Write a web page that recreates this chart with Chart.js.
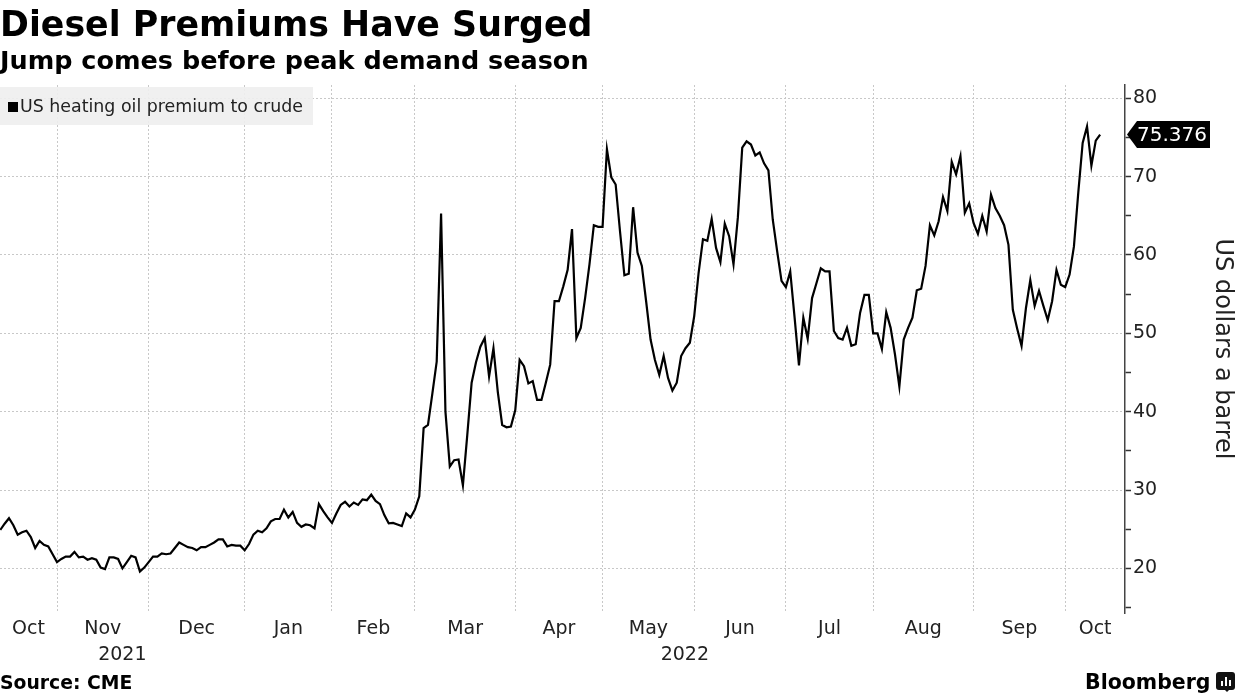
<!DOCTYPE html>
<html>
<head>
<meta charset="utf-8">
<title>Diesel Premiums Have Surged</title>
<script src="https://cdn.jsdelivr.net/npm/chart.js@4.4.1/dist/chart.umd.min.js"></script>
<style>
  html, body { margin: 0; padding: 0; background: #fff; }
  #wrap { position: relative; width: 1240px; height: 697px; overflow: hidden;
          font-family: "DejaVu Sans", sans-serif; color: #000; }
  #chart { position: absolute; left: 0; top: 0; }
  .title { position: absolute; left: 0; top: 7px; font-weight: bold; font-size: 34.8px; line-height: 1; white-space: nowrap; }
  .subtitle { position: absolute; left: 0; top: 48px; font-weight: bold; font-size: 25.5px; line-height: 1; white-space: nowrap; }
  .legend { position: absolute; left: 0; top: 87px; width: 313px; height: 38px;
            background: rgba(238, 238, 238, 0.9); font-size: 17.4px; line-height: 38px; color: #222; white-space: nowrap; }
  .legend i { display: inline-block; width: 10px; height: 10px; background: #000; margin: 0 2px 0 8px; vertical-align: 0px; }
  .source { position: absolute; left: 0; top: 674px; font-weight: bold; font-size: 18.8px; line-height: 1; }
  .brand { position: absolute; left: 1085px; top: 672px; font-weight: bold; font-size: 20.5px; line-height: 1; }
  .logo { position: absolute; left: 1216px; top: 672px; width: 19px; height: 18px; background: #111; border-radius: 3px; }
  .logo:after { content: ""; position: absolute; left: 8px; top: 17px; border: 3px solid transparent; border-top-color: #111; }
  .logo b { position: absolute; bottom: 4px; width: 2px; background: #fff; }
</style>
</head>
<body>
<div id="wrap">
  <canvas id="chart" width="1240" height="697"></canvas>
  <div class="title">Diesel Premiums Have Surged</div>
  <div class="subtitle">Jump comes before peak demand season</div>
  <div class="legend"><i></i>US heating oil premium to crude</div>
  <div class="source">Source: CME</div>
  <div class="brand">Bloomberg</div>
  <div class="logo"><b style="left:5px;height:5px"></b><b style="left:9px;height:9px"></b><b style="left:13px;height:6px"></b></div>
</div>
<script>
// trading days shown on the chart (weekdays, exchange holidays left out)
const firstDay = '2021-10-13';
const lastDay = '2022-10-13';
const holidays = ['2021-11-25', '2021-12-24', '2022-01-17', '2022-02-21', '2022-04-15',
                  '2022-05-30', '2022-06-20', '2022-07-04', '2022-09-05'];

// US heating oil premium to crude, US dollars a barrel, one value per trading day
const heatingOilPremium = [
  24.9, 25.7, 26.4, 25.5, 24.3, 24.6, 24.8, 24.0, 22.6, 23.5,
  23.0, 22.8, 21.8, 20.8, 21.2, 21.5, 21.5, 22.1, 21.4, 21.5,
  21.1, 21.3, 21.1, 20.1, 19.9, 21.4, 21.4, 21.2, 20.0, 20.8,
  21.6, 21.4, 19.6, 20.1, 20.8, 21.5, 21.5, 21.9, 21.8, 21.9,
  22.6, 23.3, 23.0, 22.7, 22.6, 22.3, 22.7, 22.7, 23.0, 23.3,
  23.7, 23.7, 22.8, 23.0, 22.9, 22.9, 22.3, 23.1, 24.3, 24.8,
  24.6, 25.1, 26.0, 26.3, 26.3, 27.5, 26.5, 27.2, 25.8, 25.3,
  25.6, 25.5, 25.1, 28.2, 27.3, 26.5, 25.8, 27.0, 28.1, 28.5,
  27.9, 28.4, 28.1, 28.8, 28.7, 29.4, 28.6, 28.2, 26.8, 25.75,
  25.8, 25.6, 25.4, 27.0, 26.5, 27.5, 29.2, 37.9, 38.3, 42.3,
  46.4, 65.3, 40.0, 33.0, 33.8, 33.9, 30.6, 37.0, 43.7, 46.3,
  48.3, 49.4, 44.5, 48.1, 42.5, 38.3, 38.0, 38.1, 40.2, 46.6,
  45.8, 43.6, 43.9, 41.5, 41.5, 43.7, 46.0, 54.1, 54.1, 56.0,
  58.1, 63.3, 49.4, 50.7, 54.5, 58.8, 63.8, 63.6, 63.6, 73.5,
  69.9, 69.0, 63.0, 57.4, 57.6, 66.1, 60.3, 58.6, 54.0, 49.2,
  46.6, 44.7, 47.1, 44.3, 42.7, 43.7, 47.1, 48.1, 48.8, 52.2,
  57.7, 62.0, 61.8, 64.6, 60.9, 59.1, 64.0, 62.4, 58.8, 64.8,
  73.7, 74.5, 74.1, 72.7, 73.1, 71.7, 70.8, 64.5, 60.5, 56.7,
  55.9, 57.9, 52.0, 45.9, 52.0, 49.3, 54.5, 56.4, 58.3, 57.9,
  57.9, 50.3, 49.4, 49.2, 50.7, 48.4, 48.6, 52.6, 54.9, 54.9,
  50.0, 50.0, 48.0, 52.7, 50.7, 47.3, 43.2, 49.2, 50.7, 52.0,
  55.5, 55.7, 58.6, 63.8, 62.5, 64.3, 67.4, 65.6, 71.9, 70.3,
  72.6, 65.4, 66.6, 64.1, 62.7, 65.0, 63.0, 67.7, 66.0, 65.0,
  63.8, 61.3, 53.0, 50.6, 48.4, 53.2, 56.8, 53.5, 55.4, 53.5,
  51.7, 54.1, 58.1, 56.2, 55.9, 57.5, 61.1, 68.0, 74.3, 76.4,
  71.4, 74.6, 75.376
];

const monthNames = ['Jan', 'Feb', 'Mar', 'Apr', 'May', 'Jun', 'Jul', 'Aug', 'Sep', 'Oct', 'Nov', 'Dec'];
const yMajorTicks = [20, 30, 40, 50, 60, 70, 80];
const yMinorTicks = [15, 25, 35, 45, 55, 65, 75];

function tradingDays(from, to, skip) {
  const out = [];
  const d = new Date(from + 'T00:00:00Z');
  const end = new Date(to + 'T00:00:00Z');
  while (d <= end) {
    const iso = d.toISOString().slice(0, 10);
    const wd = d.getUTCDay();
    if (wd !== 0 && wd !== 6 && skip.indexOf(iso) === -1) out.push(iso);
    d.setUTCDate(d.getUTCDate() + 1);
  }
  return out;
}

const days = tradingDays(firstDay, lastDay, holidays);
if (days.length !== heatingOilPremium.length) console.warn('day count', days.length, heatingOilPremium.length);

// visible range of the x axis, in trading-day index units
const xMin = -0.06;
const xMax = 257.7;

// first trading day of each month -> dotted vertical gridlines
const monthStarts = [];
const yearStarts = [];
days.forEach((d, i) => {
  if (i === 0) return;
  if (d.slice(5, 7) !== days[i - 1].slice(5, 7)) monthStarts.push(i);
  if (d.slice(0, 4) !== days[i - 1].slice(0, 4)) yearStarts.push(i);
});

// month labels sit in the middle of each month span, years in the middle of each year span
const spanMids = (starts) => {
  const edges = [xMin].concat(starts, [xMax]);
  return edges.slice(1).map((e, k) => (edges[k] + e) / 2);
};
const monthPos = spanMids(monthStarts);
const monthText = [0].concat(monthStarts).map(i => monthNames[parseInt(days[i].slice(5, 7), 10) - 1]);
const yearPos = spanMids(yearStarts);
const yearText = [0].concat(yearStarts).map(i => days[i].slice(0, 4));

const points = heatingOilPremium.map((v, i) => ({ x: i, y: v }));
const lastValue = heatingOilPremium[heatingOilPremium.length - 1];

const axisFont = { family: 'DejaVu Sans', size: 19 };

const lastValueFlag = {
  id: 'lastValueFlag',
  afterDraw(chart) {
    const ctx = chart.ctx;
    const y = chart.scales.y.getPixelForValue(lastValue);
    const x0 = chart.chartArea.right + 2;
    ctx.save();
    ctx.fillStyle = '#000';
    ctx.beginPath();
    ctx.moveTo(x0, y);
    ctx.lineTo(x0 + 10, y - 13.5);
    ctx.lineTo(x0 + 83, y - 13.5);
    ctx.lineTo(x0 + 83, y + 13.5);
    ctx.lineTo(x0 + 10, y + 13.5);
    ctx.closePath();
    ctx.fill();
    ctx.fillStyle = '#fff';
    ctx.font = '20px "DejaVu Sans"';
    ctx.textBaseline = 'middle';
    ctx.textAlign = 'left';
    ctx.fillText(lastValue.toFixed(3), x0 + 10, y + 1, 70);
    ctx.restore();
  }
};

new Chart(document.getElementById('chart'), {
  type: 'line',
  data: {
    datasets: [{
      label: 'US heating oil premium to crude',
      data: points,
      borderColor: '#000',
      borderWidth: 2.2,
      pointRadius: 0,
      tension: 0,
      fill: false
    }]
  },
  options: {
    responsive: false,
    animation: false,
    devicePixelRatio: 1,
    layout: { padding: { top: 85, left: 0, right: 0, bottom: 30 } },
    plugins: {
      legend: { display: false },
      tooltip: { enabled: false }
    },
    scales: {
      x: {
        type: 'linear',
        position: 'bottom',
        weight: 0,
        min: xMin,
        max: xMax,
        bounds: 'data',
        afterBuildTicks: s => { s.ticks = monthStarts.map(v => ({ value: v })); },
        afterFit: s => { s.height = 0; },
        ticks: { display: false },
        grid: { color: '#c8c8c8', lineWidth: 1, drawTicks: false },
        border: { display: false, dash: [2, 2] }
      },
      xm: {
        type: 'linear',
        position: 'bottom',
        weight: 1,
        min: xMin,
        max: xMax,
        bounds: 'data',
        afterBuildTicks: s => { s.ticks = monthPos.map(v => ({ value: v })); },
        afterFit: s => { s.height = 26; },
        grid: { display: false, drawTicks: false },
        border: { display: false },
        ticks: {
          autoSkip: false, maxRotation: 0, padding: 5, color: '#222', font: axisFont,
          callback: (v, i) => monthText[i]
        }
      },
      xy: {
        type: 'linear',
        position: 'bottom',
        weight: 2,
        min: xMin,
        max: xMax,
        bounds: 'data',
        afterBuildTicks: s => { s.ticks = yearPos.map(v => ({ value: v })); },
        afterFit: s => { s.height = 28; },
        grid: { display: false, drawTicks: false },
        border: { display: false },
        ticks: {
          autoSkip: false, maxRotation: 0, padding: 5, color: '#222', font: axisFont,
          callback: (v, i) => yearText[i]
        }
      },
      y: {
        type: 'linear',
        position: 'right',
        min: 14.3,
        max: 81.7,
        bounds: 'data',
        afterBuildTicks: s => {
          s.ticks = yMajorTicks.concat(yMinorTicks).sort((a, b) => a - b).map(v => ({ value: v }));
        },
        afterFit: s => { s.width = 115; },
        grid: {
          color: c => (c.tick && yMajorTicks.indexOf(c.tick.value) !== -1 ? '#c8c8c8' : 'rgba(0,0,0,0)'),
          lineWidth: 1,
          tickColor: '#333',
          tickLength: 6,
          tickWidth: 1.5
        },
        border: { display: true, color: '#444', width: 1.5, dash: [2, 2] },
        ticks: {
          padding: 2, color: '#222', font: axisFont,
          callback: v => (yMajorTicks.indexOf(v) !== -1 ? String(v) : '')
        },
        title: {
          display: true,
          text: 'US dollars a barrel',
          color: '#222',
          font: { family: 'DejaVu Sans', size: 24 },
          padding: { top: 3.6, bottom: 0 }
        }
      }
    }
  },
  plugins: [lastValueFlag]
});
</script>
</body>
</html>
